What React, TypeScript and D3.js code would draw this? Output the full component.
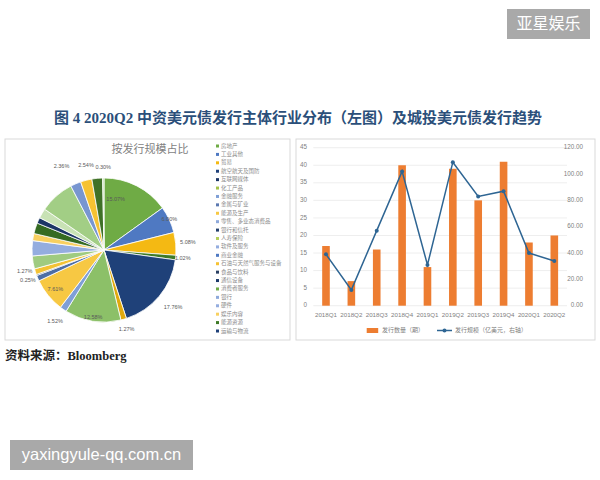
import * as d3 from "d3"

// ---- data ----
const industries = [
  "房地产", "工业其他", "贸易", "航空航天及国防", "互联网媒体", "化工产品",
  "金融服务", "金属与矿业", "能源及生产", "零售、多业态消费品", "银行和信托",
  "人寿保险", "软件及服务", "商业金融", "石油与天然气服务与设备", "食品与饮料",
  "通信设备", "消费者服务", "银行", "硬件", "娱乐内容", "能源资源", "运输与物流"
]
const shares = [
  15.07, 6.0, 5.08, 1.02, 17.76, 1.27, 12.58, 1.52, 7.61, 1.27, 0.25, 1.3,
  2.9, 3.4, 1.6, 2.4, 1.3, 2.2, 7.8, 2.36, 2.54, 2.4, 0.3
]
const sliceColors = [
  "#6fab45", "#4f79c2", "#f4b913", "#3e7a27", "#1f4179", "#e0a90e",
  "#8cc068", "#7f9fd6", "#f7c843", "#4d6ea5", "#1d3a6b", "#f3c234",
  "#9fcb80", "#94addf", "#f8d060", "#356b22", "#1c3666", "#c8e2b5",
  "#a2ce85", "#7896d0", "#f6c232", "#3f7127", "#b5d79a"
]
const legendColors = [
  "#6fab45", "#4f79c2", "#f4b913", "#1f4179", "#1c3666", "#a5c24a",
  "#7f9fd6", "#5b78b0", "#f7c843", "#8ea9db", "#24406d", "#b6cf5a",
  "#94addf", "#4f79c2", "#f6c232", "#2a3f62", "#1d3a6b", "#6fab45",
  "#8ea9db", "#94addf", "#f8d060", "#3e7a27", "#1f4179"
]

const quarters = ["2018Q1", "2018Q2", "2018Q3", "2018Q4", "2019Q1", "2019Q2", "2019Q3", "2019Q4", "2020Q1", "2020Q2"]
const issueCount = [17, 7, 16, 40, 11, 39, 30, 41, 18, 20]
const issueAmount = [39, 12, 57, 102, 31, 109, 83, 87, 40, 34]
const leftTicks = [0, 5, 10, 15, 20, 25, 30, 35, 40, 45]
const rightTicks = [0, 20, 40, 60, 80, 100, 120]

// which slices carry a label, and how far out (in radii)
const labelRadius: Record<number, number> = {
  0: 0.72, 1: 1.0, 2: 1.17, 3: 1.1, 4: 1.25, 5: 1.15, 6: 0.95, 7: 1.2,
  8: 0.87, 9: 1.14, 10: 1.14, 19: 1.3, 20: 1.2, 22: 1.14
}
// a few labels sit off their slice's middle angle (degrees, clockwise from top)
const labelAngle: Record<number, number> = { 0: 13, 9: 255, 10: 248, 19: 333, 20: 348 }

const cjk = "'Noto Sans CJK SC', 'Noto Sans', sans-serif"
const serif = "'Liberation Serif', 'Noto Sans CJK SC', serif"

function PieChart() {
  const cx = 104, cy = 250, R = 72
  const arcs = d3.pie<number>().sort(null).value(d => d)(shares)
  const arc = d3.arc<d3.PieArcDatum<number>>().innerRadius(0).outerRadius(R)
  const legendY = d3.scalePoint().domain(industries).range([146, 331])

  return (
    <g>
      <rect x={5} y={139} width={285} height={201} fill="#fff" stroke="#d9d9d9" />
      <text x={150} y={153} textAnchor="middle" fontSize={11} fill="#7f7f7f" fontFamily={cjk}>按发行规模占比</text>
      <defs>
        {sliceColors.map((c, i) => (
          <radialGradient key={i} id={"pg" + i} gradientUnits="userSpaceOnUse" cx={cx} cy={cy} r={R}>
            <stop offset="0%" stopColor={d3.interpolateRgb(c, "#ffffff")(0.7)} />
            <stop offset="100%" stopColor={c} />
          </radialGradient>
        ))}
      </defs>
      <g transform={`translate(${cx},${cy})`}>
        {arcs.map((a, i) => (
          <path key={i} d={arc(a) || ""} fill={`url(#pg${i})`} stroke="#fff" strokeWidth={0.8} />
        ))}
      </g>
      {arcs.map((a, i) => {
        const k = labelRadius[i]
        if (k === undefined) return null
        const ang = labelAngle[i] !== undefined ? labelAngle[i] * Math.PI / 180 : (a.startAngle + a.endAngle) / 2
        return (
          <text key={i} x={cx + k * R * Math.sin(ang)} y={cy - k * R * Math.cos(ang)}
            textAnchor="middle" dominantBaseline="middle" fontSize={5.5} fill="#595959"
            fontFamily="'Liberation Sans', sans-serif">
            {shares[i].toFixed(2) + "%"}
          </text>
        )
      })}
      {industries.map((name, i) => (
        <g key={name} transform={`translate(216,${legendY(name)})`}>
          <rect x={0} y={-1.5} width={3} height={3} fill={legendColors[i]} />
          <text x={5} y={0} dominantBaseline="middle" fontSize={5.5} fill="#8c8c8c" fontFamily={cjk}>{name}</text>
        </g>
      ))}
    </g>
  )
}

function ComboChart() {
  const x = d3.scaleBand().domain(quarters).range([313.3, 567]).paddingInner(0.7).paddingOuter(0.35)
  const yL = d3.scaleLinear().domain([0, 45]).range([305.7, 147.7])
  const yR = d3.scaleLinear().domain([0, 120]).range([305.7, 147.7])
  const cxOf = (q: string) => (x(q) || 0) + x.bandwidth() / 2
  const line = d3.line<number>().x((_, i) => cxOf(quarters[i])).y(d => yR(d))
  const lineColor = "#2e6593"
  const barColor = "#ed7d31"

  return (
    <g>
      <rect x={296} y={139} width={299} height={201} fill="#fff" stroke="#d9d9d9" />
      {leftTicks.map(t => (
        <g key={t}>
          <line x1={313.3} x2={567} y1={yL(t)} y2={yL(t)} stroke="#e6e6e6" strokeWidth={0.7} />
          <text x={307} y={yL(t)} textAnchor="end" dominantBaseline="middle" fontSize={6.3} fill="#7f7f7f"
            fontFamily="'Liberation Sans', sans-serif">{t}</text>
        </g>
      ))}
      {rightTicks.map(t => (
        <text key={t} x={583} y={yR(t)} textAnchor="end" dominantBaseline="middle" fontSize={6.3} fill="#7f7f7f"
          fontFamily="'Liberation Sans', sans-serif">{t.toFixed(2)}</text>
      ))}
      {issueCount.map((v, i) => (
        <rect key={i} x={x(quarters[i])} y={yL(v)} width={x.bandwidth()} height={yL(0) - yL(v)} fill={barColor} />
      ))}
      <path d={line(issueAmount) || ""} fill="none" stroke={lineColor} strokeWidth={1.5} />
      {issueAmount.map((v, i) => (
        <circle key={i} cx={cxOf(quarters[i])} cy={yR(v)} r={2} fill={lineColor} />
      ))}
      {quarters.map(q => (
        <text key={q} x={cxOf(q)} y={315} textAnchor="middle" dominantBaseline="middle" fontSize={6.2} fill="#7f7f7f"
          fontFamily="'Liberation Sans', sans-serif">{q}</text>
      ))}
      <rect x={366.7} y={328} width={11.5} height={5} fill={barColor} />
      <text x={382} y={330.5} dominantBaseline="middle" fontSize={6} fill="#7f7f7f" fontFamily={cjk}>发行数量（期）</text>
      <line x1={437} x2={452} y1={330.5} y2={330.5} stroke={lineColor} strokeWidth={1.5} />
      <circle cx={444.5} cy={330.5} r={2} fill={lineColor} />
      <text x={455} y={330.5} dominantBaseline="middle" fontSize={6} fill="#7f7f7f" fontFamily={cjk}>发行规模（亿美元，右轴）</text>
    </g>
  )
}

export default function App() {
  return (
    <div style={{ position: "fixed", left: 0, top: 0 }}>
      <svg width={600} height={480} viewBox="0 0 600 480" style={{ display: "block", background: "#fff" }}>
        <rect x={0} y={0} width={600} height={480} fill="#fff" />
        <rect x={507} y={9} width={83} height={30} fill="#a9a9a9" />
        <text x={548.5} y={24.5} textAnchor="middle" dominantBaseline="middle" fontSize={16} fill="#fff" fontFamily={cjk}>亚星娱乐</text>

        <text x={298} y={120} textAnchor="middle" dominantBaseline="middle" fontSize={15} fontWeight="bold"
          fill="#2b4f7a" fontFamily={serif}>图 4 2020Q2 中资美元债发行主体行业分布（左图）及城投美元债发行趋势</text>

        <PieChart />
        <ComboChart />

        <text x={5} y={357} dominantBaseline="middle" fontSize={12.5} fontWeight="bold" fill="#222" fontFamily={serif}>资料来源：Bloomberg</text>

        <rect x={10} y={440} width={183} height={30} fill="#a9a9a9" />
        <text x={101.5} y={455.5} textAnchor="middle" dominantBaseline="middle" fontSize={16.5} fill="#fff"
          fontFamily="'Liberation Sans', 'DejaVu Sans', sans-serif">yaxingyule-qq.com.cn</text>
      </svg>
    </div>
  )
}
